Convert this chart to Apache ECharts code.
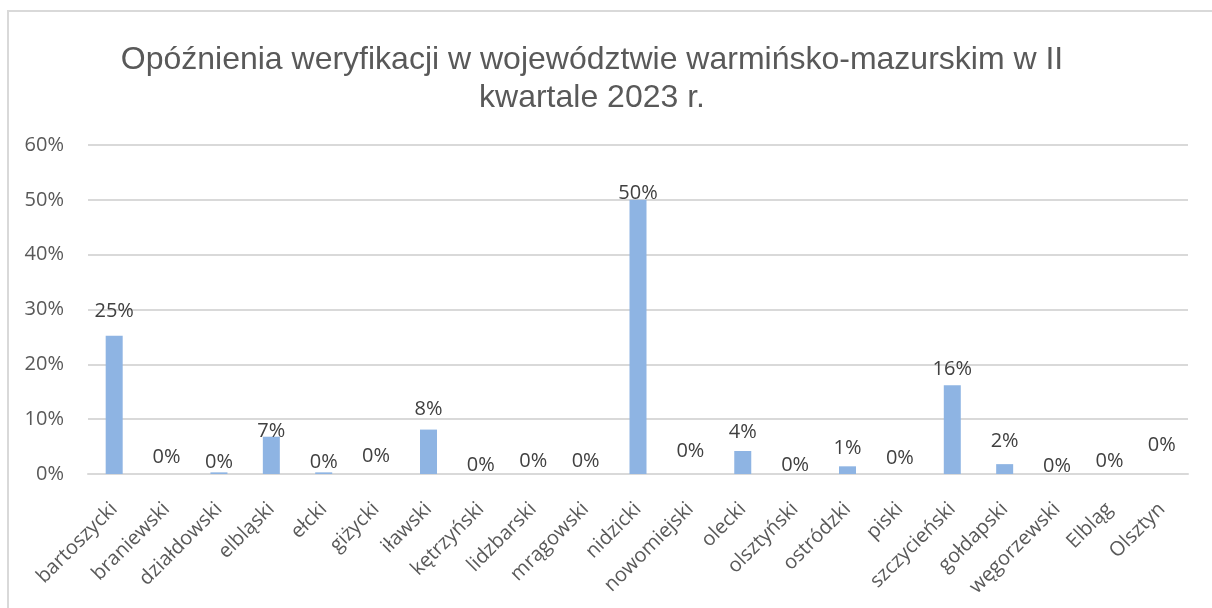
<!DOCTYPE html>
<html>
<head>
<meta charset="utf-8">
<script src="https://cdn.jsdelivr.net/npm/echarts@6/dist/echarts.min.js"></script>
<style>
  html, body { margin: 0; padding: 0; background: #fff; }
  #chart { width: 1212px; height: 608px; }
</style>
</head>
<body>
<div id="chart"></div>
<script>
// powiaty / miasta
const categories = ["bartoszycki", "braniewski", "działdowski", "elbląski", "ełcki", "giżycki", "iławski",
  "kętrzyński", "lidzbarski", "mrągowski", "nidzicki", "nowomiejski", "olecki", "olsztyński", "ostródzki",
  "piski", "szczycieński", "gołdapski", "węgorzewski", "Elbląg", "Olsztyn"];

// udział opóźnień (%)
const delays = [25.2, 0, 0.3, 6.8, 0.3, 0, 8.1, 0, 0, 0, 50, 0, 4.2, 0, 1.4, 0, 16.2, 1.8, 0, 0, 0];

// y axis ticks
const yTicks = [0, 10, 20, 30, 40, 50, 60];

// how high each label sits above its bar (px), labels were dragged by hand in the original
const labelLift = [25, 17, 10, 5, 10, 18, 20, 9, 13, 13, 7, 23, 19, 9, 18, 16, 16, 23, 8, 13, 29];

const txt = '#595959';

const chart = echarts.init(document.getElementById('chart'));

chart.setOption({
    backgroundColor: '#fff',
    animation: false,
    title: {
        text: 'Opóźnienia weryfikacji w województwie warmińsko-mazurskim w II\nkwartale 2023 r.',
        left: 587,
        top: 36,
        textAlign: 'center',
        textStyle: {
            fontFamily: 'Liberation Sans',
            fontWeight: 'normal',
            fontSize: 32,
            lineHeight: 38,
            color: txt
        }
    },
    graphic: [{
        type: 'polyline',
        shape: { points: [[8, 608], [8, 11], [1212, 11]] },
        style: { stroke: '#d9d9d9', lineWidth: 2, fill: null }
    }],
    grid: { left: 88, right: 24, top: 145, bottom: 134 },
    xAxis: {
        type: 'category',
        data: categories,
        axisTick: { show: false },
        axisLine: { lineStyle: { color: '#d9d9d9', width: 2 } },
        axisLabel: {
            rotate: 45,
            margin: 32,
            interval: 0,
            fontFamily: 'Open Sans',
            fontSize: 20,
            color: txt
        }
    },
    yAxis: {
        type: 'value',
        min: yTicks[0],
        max: yTicks[yTicks.length - 1],
        interval: 10,
        axisLine: { show: false },
        axisTick: { show: false },
        splitLine: { lineStyle: { color: '#d9d9d9', width: 2 } },
        axisLabel: {
            margin: 24,
            fontFamily: 'Open Sans',
            fontSize: 20,
            color: txt,
            formatter: v => v + '%'
        }
    },
    series: [{
        type: 'bar',
        barWidth: 17,
        itemStyle: { color: '#8eb4e3' },
        data: delays.map((v, i) => ({
            value: v,
            label: { offset: [0, 10 - labelLift[i]] }
        })),
        label: {
            show: true,
            position: 'top',
            distance: 0,
            fontFamily: 'Open Sans',
            fontSize: 20,
            lineHeight: 20,
            color: '#404040',
            formatter: p => Math.round(p.value) + '%'
        }
    }]
});
</script>
</body>
</html>
